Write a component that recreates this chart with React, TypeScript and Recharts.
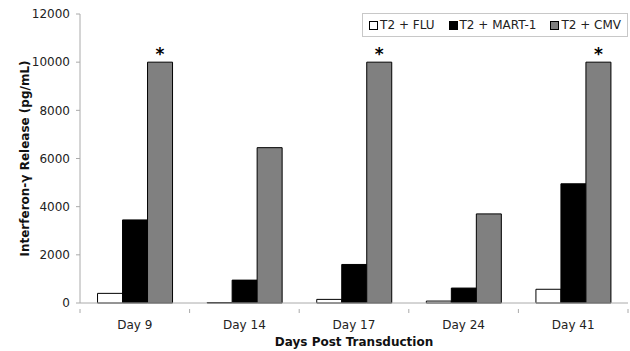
import React from 'react';
import { BarChart, Bar, XAxis, YAxis, LabelList } from 'recharts';

const days = ['Day 9', 'Day 14', 'Day 17', 'Day 24', 'Day 41'];
const fluValues = [400, 20, 150, 80, 570];
const mart1Values = [3450, 950, 1600, 620, 4950];
const cmvValues = [10000, 6450, 10000, 3700, 10000];
const significant = [true, false, true, false, true];
const yTicks = [0, 2000, 4000, 6000, 8000, 10000, 12000];

const seriesNames = ['T2 + FLU', 'T2 + MART-1', 'T2 + CMV'];
const seriesColors = ['#ffffff', '#000000', '#808080'];

const data = days.map((d, i) => ({
  day: d,
  flu: fluValues[i],
  mart1: mart1Values[i],
  cmv: cmvValues[i],
  star: significant[i] ? '*' : '',
}));

const FONT = '"DejaVu Sans", Verdana, sans-serif';
const W = 630;
const H = 351;
const PLOT_LEFT = 80;
const PLOT_RIGHT = 628;

const XTick = (props: any) => {
  const { x, y, payload, index } = props;
  const half = (PLOT_RIGHT - PLOT_LEFT) / days.length / 2;
  const axisY = y - 2;
  return (
    <g>
      <line x1={x - half} y1={axisY} x2={x - half} y2={axisY + 4} stroke="#aaaaaa" />
      {index === days.length - 1 && (
        <line x1={x + half} y1={axisY} x2={x + half} y2={axisY + 4} stroke="#aaaaaa" />
      )}
      <text x={x} y={axisY + 20} textAnchor="middle" fontSize={12} fill="#222" fontFamily={FONT}>
        {payload.value}
      </text>
    </g>
  );
};

const LegendBox = () => (
  <div
    style={{
      position: 'absolute',
      top: 13,
      right: W - PLOT_RIGHT,
      border: '1px solid #c8c8c8',
      background: '#fff',
      display: 'flex',
      alignItems: 'center',
      height: 24,
      padding: '0 6px',
      fontFamily: FONT,
      fontSize: 12,
      color: '#222',
      boxSizing: 'border-box',
    }}
  >
    {seriesNames.map((n, i) => (
      <div key={n} style={{ display: 'flex', alignItems: 'center', marginLeft: i === 0 ? 0 : 14 }}>
        <span
          style={{
            display: 'inline-block',
            width: 7,
            height: 7,
            background: seriesColors[i],
            border: '1px solid #000',
            marginRight: 2,
          }}
        />
        <span style={{ whiteSpace: 'nowrap' }}>{n}</span>
      </div>
    ))}
  </div>
);

const StarLabel = (props: any) => {
  const { x, y, width, value } = props;
  if (!value) return null;
  return (
    <text x={x + width / 2} y={y - 2} textAnchor="middle" fontSize={17} fontWeight="bold" fill="#000" fontFamily={FONT}>
      {value}
    </text>
  );
};

export default function App() {
  return (
    <div style={{ position: 'absolute', left: 0, top: 0, width: W, height: H, background: '#fff' }}>
      <BarChart
        width={W}
        height={H}
        data={data}
        margin={{ top: 14, right: W - PLOT_RIGHT, bottom: 18, left: 0 }}
        barGap={0}
        barCategoryGap="16%"
      >
        <XAxis
          dataKey="day"
          tickLine={false}
          axisLine={{ stroke: '#aaaaaa' }}
          tick={<XTick />}
          height={30}
          interval={0}
          label={{
            value: 'Days Post Transduction',
            position: 'insideBottom',
            offset: -13,
            style: { fontFamily: FONT, fontSize: 12, fontWeight: 'bold', fill: '#111' },
          }}
        />
        <YAxis
          width={PLOT_LEFT}
          domain={[0, 12000]}
          ticks={yTicks}
          tickSize={4}
          tickMargin={6}
          tickLine={{ stroke: '#aaaaaa' }}
          axisLine={{ stroke: '#aaaaaa' }}
          tick={{ fontFamily: FONT, fontSize: 12, fill: '#222' }}
          label={{
            value: 'Interferon-γ Release (pg/mL)',
            angle: -90,
            position: 'insideLeft',
            offset: 25,
            style: { textAnchor: 'middle', fontFamily: FONT, fontSize: 12, fontWeight: 'bold', fill: '#111' },
          }}
        />
        <Bar dataKey="flu" name={seriesNames[0]} fill={seriesColors[0]} stroke="#000" strokeWidth={1} isAnimationActive={false} />
        <Bar dataKey="mart1" name={seriesNames[1]} fill={seriesColors[1]} stroke="#000" strokeWidth={1} isAnimationActive={false} />
        <Bar dataKey="cmv" name={seriesNames[2]} fill={seriesColors[2]} stroke="#000" strokeWidth={1} isAnimationActive={false}>
          <LabelList dataKey="star" content={<StarLabel />} />
        </Bar>
      </BarChart>
      <LegendBox />
    </div>
  );
}
